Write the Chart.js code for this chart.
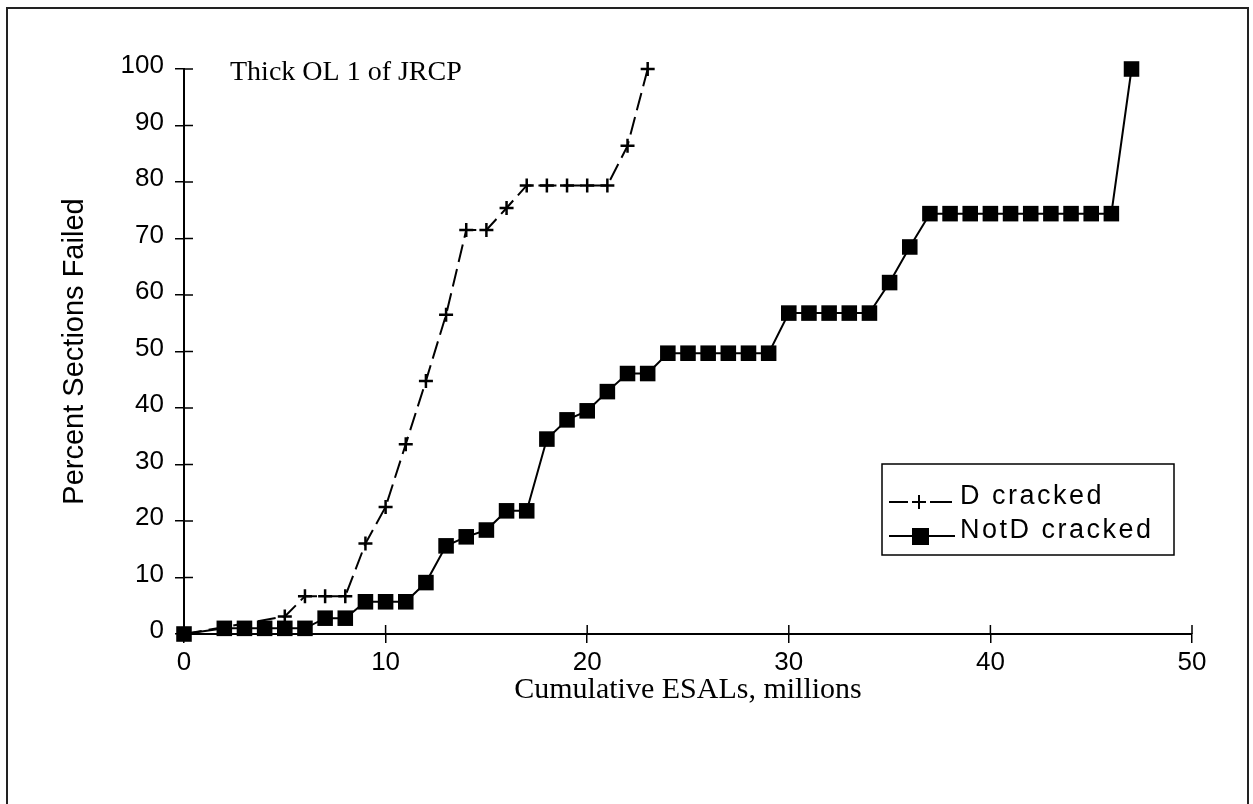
<!DOCTYPE html>
<html><head><meta charset="utf-8">
<script src="https://cdn.jsdelivr.net/npm/chart.js@4"></script>
<style>html,body{margin:0;padding:0;background:#fff;}#wrap{width:1253px;height:804px;}</style>
</head><body><div id="wrap"><canvas id="c" width="1253" height="804"></canvas></div>
<script>
// ---- data ----
const dCrackedX = [0, 5, 6, 7, 8, 9, 10, 11, 12, 13, 14, 15, 16, 17, 18, 19, 20, 21, 22, 23];
const dCrackedY = [0, 3.1, 6.7, 6.7, 6.7, 16, 22.5, 33.6, 44.8, 56.5, 71.5, 71.5, 75.4, 79.4, 79.4, 79.4, 79.4, 79.4, 86.4, 100];
const notDX = [0, 2, 3, 4, 5, 6, 7, 8, 9, 10, 11, 12, 13, 14, 15, 16, 17, 18, 19, 20, 21, 22, 23,
  24, 25, 26, 27, 28, 29, 30, 31, 32, 33, 34, 35, 36, 37, 38, 39, 40, 41, 42, 43, 44, 45, 46, 47];
const notDY = [0, 1, 1, 1, 1, 1, 2.8, 2.8, 5.7, 5.7, 5.7, 9.1, 15.6, 17.2, 18.4, 21.8, 21.8,
  34.5, 37.9, 39.5, 42.9, 46.1, 46.1, 49.7, 49.7, 49.7, 49.7, 49.7, 49.7, 56.8, 56.8, 56.8, 56.8, 56.8,
  62.2, 68.5, 74.4, 74.4, 74.4, 74.4, 74.4, 74.4, 74.4, 74.4, 74.4, 74.4, 100];
const seriesNames = ['D cracked', 'NotD cracked'];
const xTickValues = [0, 10, 20, 30, 40, 50];
const yTickValues = [0, 10, 20, 30, 40, 50, 60, 70, 80, 90, 100];
const noteText = 'Thick OL 1 of JRCP';
const xAxisTitle = 'Cumulative ESALs, millions';
const yAxisTitle = 'Percent Sections Failed';

const toPts = (xs, ys) => xs.map((x, i) => ({x: x, y: ys[i]}));

const SANS = '"Liberation Sans", Arial, sans-serif';
const SERIF = '"Liberation Serif", "Times New Roman", serif';

const deco = {
  id: 'deco',
  beforeDraw(chart) {
    const c = chart.ctx;
    c.save(); c.fillStyle = '#fff'; c.fillRect(0, 0, chart.width, chart.height); c.restore();
  },
  afterDraw(chart) {
    const c = chart.ctx, xs = chart.scales.x, ys = chart.scales.y, ca = chart.chartArea;
    c.save();
    c.strokeStyle = '#000'; c.lineWidth = 1.5; c.setLineDash([]);
    xTickValues.forEach(v => { const p = xs.getPixelForValue(v); c.beginPath(); c.moveTo(p, ca.bottom); c.lineTo(p, ca.bottom - 9); c.stroke(); });
    yTickValues.forEach(v => { const p = ys.getPixelForValue(v); c.beginPath(); c.moveTo(ca.left, p); c.lineTo(ca.left + 9, p); c.stroke(); });
    // outer frame
    c.strokeStyle = '#222'; c.lineWidth = 2;
    c.strokeRect(7, 8, 1241, 830);
    // note
    c.fillStyle = '#000';
    c.font = '28px ' + SERIF; c.textBaseline = 'alphabetic'; c.textAlign = 'left';
    c.fillText(noteText, 230, 80);
    // legend
    const bx = 882, by = 464, bw = 292, bh = 91;
    c.lineWidth = 1.5; c.strokeStyle = '#000';
    c.strokeRect(bx, by, bw, bh);
    const r1 = by + 33, r2 = by + 67;
    c.lineWidth = 2;
    c.beginPath(); c.moveTo(889, r1 + 5); c.lineTo(908, r1 + 5); c.moveTo(930, r1 + 5); c.lineTo(952, r1 + 5); c.stroke();
    c.beginPath(); c.moveTo(912, r1 + 5); c.lineTo(926, r1 + 5); c.moveTo(919, r1 - 2); c.lineTo(919, r1 + 12); c.stroke();
    c.beginPath(); c.moveTo(889, r2 + 5); c.lineTo(955, r2 + 5); c.stroke();
    c.fillRect(912, r2 - 3, 17, 17);
    c.font = '27px ' + SANS; c.textBaseline = 'middle';
    try { c.letterSpacing = '2.5px'; } catch (e) {}
    c.fillText(seriesNames[0], 960, r1);
    c.fillText(seriesNames[1], 960, r2);
    c.restore();
  }
};

new Chart(document.getElementById('c'), {
  type: 'line',
  data: {
    datasets: [
      {
        label: seriesNames[1], data: toPts(notDX, notDY), order: 1,
        borderColor: '#000', backgroundColor: '#000', borderWidth: 2,
        pointStyle: 'rect', pointRadius: 11, pointBorderWidth: 0,
        pointBackgroundColor: '#000', clip: false, tension: 0
      },
      {
        label: seriesNames[0], data: toPts(dCrackedX, dCrackedY), order: 2,
        borderColor: '#000', backgroundColor: '#000', borderWidth: 2, borderDash: [18, 7],
        pointStyle: 'cross', pointRadius: 7, pointBorderWidth: 2.5,
        pointBorderColor: '#000', clip: false, tension: 0
      }
    ]
  },
  options: {
    responsive: false, animation: false, devicePixelRatio: 1,
    layout: {padding: {left: 0, top: 69, right: 61, bottom: 0}},
    plugins: {legend: {display: false}, tooltip: {enabled: false}, title: {display: false}},
    scales: {
      x: {
        type: 'linear', min: 0, max: 50,
        afterBuildTicks: s => { s.ticks = xTickValues.map(v => ({value: v})); },
        afterFit: s => { s.height = 170; },
        ticks: {color: '#000', font: {family: SANS, size: 26}, padding: 4, maxRotation: 0},
        grid: {display: true, drawOnChartArea: false, drawTicks: true, tickLength: 9, color: '#000', lineWidth: 1.5},
        border: {display: true, color: '#000', width: 2},
        title: {display: true, text: xAxisTitle, color: '#000', font: {family: SERIF, size: 30}, padding: {top: 0, bottom: 96}}
      },
      y: {
        type: 'linear', min: 0, max: 100,
        afterBuildTicks: s => { s.ticks = yTickValues.map(v => ({value: v})); },
        afterFit: s => { s.width = 184; },
        ticks: {color: '#000', font: {family: SANS, size: 26}, padding: 11, labelOffset: -3},
        grid: {display: true, drawOnChartArea: false, drawTicks: true, tickLength: 9, color: '#000', lineWidth: 1.5},
        border: {display: true, color: '#000', width: 2},
        title: {display: true, text: yAxisTitle, color: '#000', font: {family: SANS, size: 29}, padding: {top: 58, bottom: 0}}
      }
    }
  },
  plugins: [deco]
});
</script></body></html>
